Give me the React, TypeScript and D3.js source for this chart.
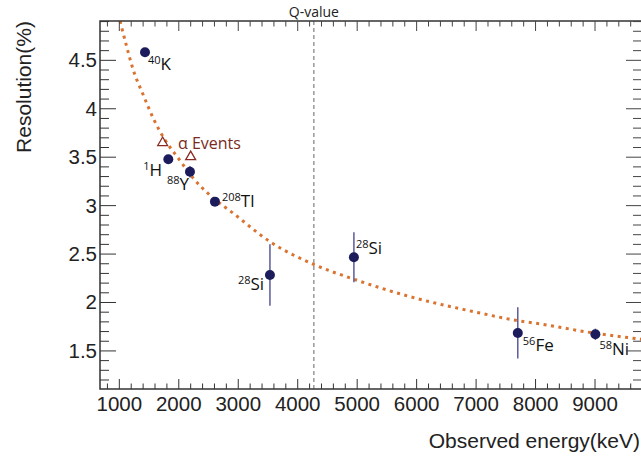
import React from "react";
import * as d3 from "d3";

// measured sources
const massNumbers = ["40", "1", "88", "208", "28", "28", "56", "58"];
const elements = ["K", "H", "Y", "Tl", "Si", "Si", "Fe", "Ni"];
const energyKeV = [1432, 1824, 2188, 2608, 3533, 4945, 7701, 9006];
const resolution = [4.583, 3.478, 3.35, 3.041, 2.284, 2.467, 1.686, 1.672];
const resolutionErr = [0, 0, 0.06, 0, 0.318, 0.258, 0.265, 0.058];

// alpha events
const alphaEnergy = [1729, 2200];
const alphaResolution = [3.66, 3.515];

// fitted curve
const fitEnergy = [1012, 1124, 1235, 1403, 1571, 1768, 1992, 2244, 2525, 2916, 3533, 4289, 4933, 5891, 7000, 7700, 8000, 9000, 9790];
const fitResolution = [4.906, 4.64, 4.4, 4.142, 3.901, 3.678, 3.489, 3.282, 3.107, 2.921, 2.628, 2.388, 2.243, 2.06, 1.9, 1.813, 1.786, 1.683, 1.62];

const qValue = 4272;
const xTicks = [1000, 2000, 3000, 4000, 5000, 6000, 7000, 8000, 9000];
const yTicks = [1.5, 2, 2.5, 3, 3.5, 4, 4.5];

// label offsets from the marker (px)
const labelDx = [3, -25, -23, 7, -32, 2, 5, 4];
const labelDy = [18, 17, 18, 5, 15, -3, 18, 21];

const W = 641;
const H = 459;
const left = 100;
const right = 642;
const top = 21;
const bottom = 389;

export default function App() {
  const x = d3.scaleLinear().domain([675, 9790]).range([left, right]);
  const y = d3.scaleLinear().domain([1.107, 4.906]).range([bottom, top]);

  const xMinor = d3.range(800, 9700, 200).filter((v) => v % 1000 !== 0);
  const yMinor = d3.range(12, 50, 1).map((v) => v / 10).filter((v) => Math.round(v * 10) % 5 !== 0);

  const fitLine = d3
    .line<number>()
    .x((d, i) => x(fitEnergy[i]))
    .y((d) => y(d))
    .curve(d3.curveMonotoneX);

  const tri = d3.symbol().type(d3.symbolTriangle).size(42);

  const tickFont = "'Liberation Sans', Arial, sans-serif";
  const labelFont = "'Open Sans', 'Noto Sans', sans-serif";

  return (
    <svg width={W} height={H} style={{ position: "absolute", left: 0, top: 0, background: "#fff" }}>
      <defs>
        <clipPath id="plot">
          <rect x={left} y={top} width={right - left} height={bottom - top} />
        </clipPath>
      </defs>

      {/* Q-value marker */}
      <line x1={x(qValue)} x2={x(qValue)} y1={top} y2={bottom} stroke="#666" strokeWidth={1} strokeDasharray="4,3" />
      <text x={x(qValue)} y={17} textAnchor="middle" fontFamily={labelFont} fontSize={14} fill="#222">
        Q-value
      </text>

      {/* fit */}
      <path
        d={fitLine(fitResolution) || ""}
        fill="none"
        stroke="#d9732f"
        strokeWidth={3}
        strokeDasharray="3,4.5"
        clipPath="url(#plot)"
      />

      {/* error bars */}
      {energyKeV.map((e, i) =>
        resolutionErr[i] > 0 ? (
          <line
            key={"err" + i}
            x1={x(e)}
            x2={x(e)}
            y1={y(resolution[i] - resolutionErr[i])}
            y2={y(resolution[i] + resolutionErr[i])}
            stroke="#5b5b9c"
            strokeWidth={1.5}
          />
        ) : null
      )}

      {/* points */}
      {energyKeV.map((e, i) => (
        <circle key={"pt" + i} cx={x(e)} cy={y(resolution[i])} r={5} fill="#1c1c5c" />
      ))}

      {/* alpha events */}
      {alphaEnergy.map((e, i) => (
        <path
          key={"a" + i}
          d={tri() || ""}
          transform={`translate(${x(e)},${y(alphaResolution[i]) + 1})`}
          fill="none"
          stroke="#8b2a22"
          strokeWidth={1.3}
        />
      ))}
      <text x={178} y={149} fontFamily={labelFont} fontSize={16} fill="#7a2a22">
        α Events
      </text>

      {/* isotope labels */}
      {energyKeV.map((e, i) => (
        <text
          key={"lb" + i}
          x={x(e) + labelDx[i]}
          y={y(resolution[i]) + labelDy[i]}
          fontFamily={labelFont}
          fill="#111"
        >
          <tspan fontSize={11} dy={-6}>
            {massNumbers[i]}
          </tspan>
          <tspan fontSize={17} dy={6}>
            {elements[i]}
          </tspan>
        </text>
      ))}

      {/* frame */}
      <rect x={left} y={top} width={right - left} height={bottom - top} fill="none" stroke="#333" strokeWidth={1.5} />

      {/* x ticks, bottom and top */}
      {xTicks.map((t) => (
        <g key={"xt" + t}>
          <line x1={x(t)} x2={x(t)} y1={bottom} y2={bottom - 10} stroke="#333" />
          <line x1={x(t)} x2={x(t)} y1={top} y2={top + 10} stroke="#444" />
          <text x={x(t)} y={411} textAnchor="middle" fontFamily={tickFont} fontSize={20.5} fill="#222">
            {t}
          </text>
        </g>
      ))}
      {xMinor.map((t) => (
        <g key={"xm" + t}>
          <line x1={x(t)} x2={x(t)} y1={bottom} y2={bottom - 5.5} stroke="#333" />
          <line x1={x(t)} x2={x(t)} y1={top} y2={top + 5.5} stroke="#444" />
        </g>
      ))}

      {/* y ticks, left and right */}
      {yTicks.map((t) => (
        <g key={"yt" + t}>
          <line x1={left} x2={left + 16} y1={y(t)} y2={y(t)} stroke="#333" />
          <line x1={right} x2={right - 16} y1={y(t)} y2={y(t)} stroke="#444" />
          <text x={97} y={y(t) + 7} textAnchor="end" fontFamily={tickFont} fontSize={20.5} fill="#222">
            {t}
          </text>
        </g>
      ))}
      {yMinor.map((t) => (
        <g key={"ym" + t}>
          <line x1={left} x2={left + 9} y1={y(t)} y2={y(t)} stroke="#333" />
          <line x1={right} x2={right - 9} y1={y(t)} y2={y(t)} stroke="#444" />
        </g>
      ))}

      {/* axis titles */}
      <text
        transform="translate(31,87) rotate(-90)"
        textAnchor="middle"
        fontFamily={tickFont}
        fontSize={21}
        fill="#222"
      >
        Resolution(%)
      </text>
      <text x={640} y={448} textAnchor="end" fontFamily={tickFont} fontSize={21} fill="#222">
        Observed energy(keV)
      </text>
    </svg>
  );
}
